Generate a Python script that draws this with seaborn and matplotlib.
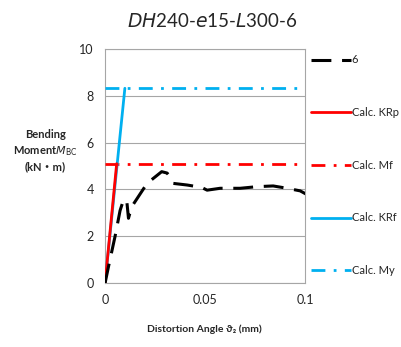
import numpy as np
import pandas as pd
import matplotlib
matplotlib.use("Agg")
import matplotlib.pyplot as plt
import seaborn as sns

sns.set_style("white")
plt.rcParams['font.family'] = ['Lato', 'DejaVu Sans']
plt.rcParams['axes.unicode_minus'] = False

# experimental curve "6"
exp_x = [0, 0.0017, 0.005, 0.0075, 0.0092, 0.0108, 0.0117, 0.0133, 0.021, 0.0283,
         0.031, 0.0325, 0.034, 0.041, 0.046, 0.0475, 0.051, 0.0575, 0.0675, 0.076,
         0.084, 0.091, 0.0975, 0.1005]
exp_y = [0, 0.7, 2.0, 3.1, 3.55, 3.55, 2.77, 3.26, 4.26, 4.76,
         4.7, 4.54, 4.26, 4.19, 4.12, 4.12, 3.97, 4.05, 4.05, 4.12,
         4.15, 4.05, 3.94, 3.8]

# calculated values
krp_x = [0, 0.0058]
krp_y = [0, 5.1]
mf_x = [0, 0.1]
mf_y = [5.1, 5.1]
krf_x = [0, 0.0099]
krf_y = [0, 8.32]
my_x = [0, 0.1]
my_y = [8.32, 8.32]

fig = plt.figure(figsize=(4.01, 3.47), dpi=100)
ax = fig.add_axes([0.262, 0.184, 0.499, 0.675])

sns.lineplot(x=exp_x, y=exp_y, ax=ax, color='black', lw=2.2, sort=False,
             dashes=False, label='6', zorder=5)
ax.lines[-1].set_dashes([6.5, 3.5])
sns.lineplot(x=krp_x, y=krp_y, ax=ax, color='#ff0000', lw=2, label='Calc. KRp', zorder=4)
sns.lineplot(x=mf_x, y=mf_y, ax=ax, color='#ff0000', lw=2, label='Calc. Mf', zorder=3)
ax.lines[-1].set_dashes([5, 3, 1, 3])
sns.lineplot(x=krf_x, y=krf_y, ax=ax, color='#00b0f0', lw=2, label='Calc. KRf', zorder=3)
sns.lineplot(x=my_x, y=my_y, ax=ax, color='#00b0f0', lw=2, label='Calc. My', zorder=3)
ax.lines[-1].set_dashes([5, 3, 1, 3])

ax.set_xlim(0, 0.1)
ax.set_ylim(0, 10)
ax.set_xticks([0, 0.05, 0.1])
ax.set_xticklabels(['0', '0.05', '0.1'])
ax.set_yticks([0, 2, 4, 6, 8, 10])
ax.tick_params(labelsize=9, length=0, pad=8)
ax.yaxis.grid(True, color='#a6a6a6', lw=0.8)
ax.xaxis.grid(False)
for s in ax.spines.values():
    s.set_color('#a6a6a6')
    s.set_linewidth(0.8)

fig.text(0.53, 0.94, r'$\it{DH}$240-$\it{e}$15-$\it{L}$300-6', ha='center',
         va='center', fontsize=13.5)
fig.text(0.113, 0.565, 'Bending\nMoment$\\mathit{M}_{\\rm BC}$\n(kN\u30fbm)', ha='center',
         va='center', fontsize=8, fontweight='bold', linespacing=1.4,
         family=['Lato', 'Noto Sans CJK JP', 'DejaVu Sans'])
fig.text(0.51, 0.05, 'Distortion Angle \u03d1\u2082 (mm)', ha='center', va='center',
         fontsize=7.5, fontweight='bold', family=['Lato', 'DejaVu Sans'])

ax.legend(loc='upper left', bbox_to_anchor=(1.0, 1.0), frameon=False, fontsize=8,
          handlelength=3.6, handletextpad=0.1, labelspacing=3.75, borderaxespad=0.1)

fig.savefig('out.png', dpi=100)
